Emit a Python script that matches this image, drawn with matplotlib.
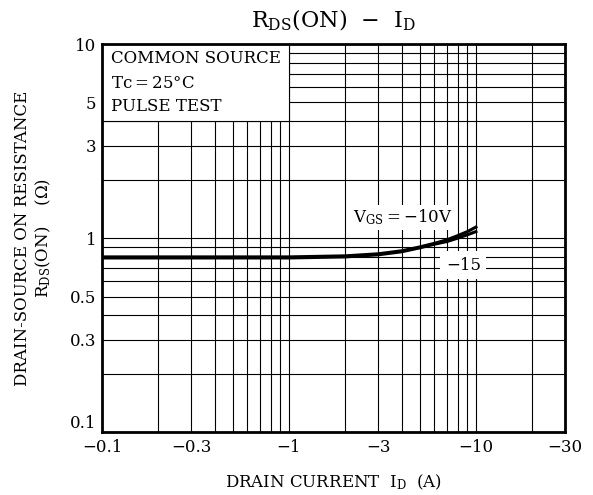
import matplotlib
matplotlib.use("Agg")
import matplotlib.pyplot as plt
from matplotlib.patches import Rectangle
from matplotlib.ticker import FixedLocator, NullFormatter

plt.rcParams['font.family'] = ['DejaVu Serif']
plt.rcParams['mathtext.fontset'] = 'dejavuserif'

# drain current magnitude (A), shown with a minus sign on the axis
id_a = [0.1, 0.3, 1, 2, 3, 4, 5, 6, 7, 8, 9, 10]
# RDS(ON) (ohm) for each gate voltage
rds_10 = [0.80, 0.80, 0.80, 0.81, 0.83, 0.86, 0.90, 0.94, 0.98, 1.03, 1.08, 1.14]
rds_15 = [0.79, 0.79, 0.79, 0.80, 0.82, 0.85, 0.89, 0.93, 0.96, 1.00, 1.04, 1.08]

x_ticks = [0.1, 0.3, 1, 3, 10, 30]
x_labels = ['\u22120.1', '\u22120.3', '\u22121', '\u22123', '\u221210', '\u221230']
y_ticks = [0.1, 0.3, 0.5, 1, 3, 5, 10]
y_labels = ['0.1', '0.3', '0.5', '1', '3', '5', '10']

fig = plt.figure(figsize=(5.93, 4.95), dpi=100)
ax = fig.add_axes([0.172, 0.127, 0.781, 0.784])
ax.set_xscale('log')
ax.set_yscale('log')
ax.set_xlim(0.1, 30)
ax.set_ylim(0.1, 10)

ax.plot(id_a, rds_10, color='black', lw=2.2, zorder=3)
ax.plot(id_a, rds_15, color='black', lw=2.2, zorder=3)

ax.xaxis.set_major_locator(FixedLocator(x_ticks))
ax.set_xticklabels(x_labels)
ax.yaxis.set_major_locator(FixedLocator(y_ticks))
ax.set_yticklabels(y_labels)
ax.xaxis.set_minor_formatter(NullFormatter())
ax.yaxis.set_minor_formatter(NullFormatter())
ax.tick_params(which='both', length=0, labelsize=12, pad=4)
ax.tick_params(axis='x', pad=5)
# bottom y label sits just above the corner, as in the original
ax.get_yticklabels()[0].set_va('bottom')
ax.grid(True, which='both', color='black', lw=0.8, zorder=1)
ax.set_axisbelow(True)
for s in ax.spines.values():
    s.set_linewidth(2)

# condition box in upper left
ax.add_patch(Rectangle((0.1, 4), 0.9, 6, facecolor='white', edgecolor='black', lw=0.8, zorder=2))
ax.text(0.02, 0.964, 'COMMON SOURCE', transform=ax.transAxes, fontsize=12, va='center', zorder=4)
ax.text(0.02, 0.898, 'Tc$=$25\u00b0C', transform=ax.transAxes, fontsize=12, va='center', zorder=4)
ax.text(0.02, 0.84, 'PULSE TEST', transform=ax.transAxes, fontsize=12, va='center', zorder=4)

ax.text(2.2, 1.14, r'$\mathregular{V_{GS}}$$=-$10V', fontsize=12, va='bottom', zorder=4,
        bbox=dict(facecolor='white', edgecolor='none', pad=2))
ax.text(6.9, 0.725, '\u221215', fontsize=12, va='center', zorder=4,
        bbox=dict(facecolor='white', edgecolor='none', pad=4))

fig.text(0.563, 0.958, r'$\mathregular{R_{DS}}$(ON)  $-$  $\mathregular{I_D}$', fontsize=16, ha='center', va='center')
ax.set_xlabel(r'DRAIN CURRENT  $\mathregular{I_D}$  (A)', fontsize=12, labelpad=12)
ax.set_ylabel('DRAIN-SOURCE ON RESISTANCE\n' + r'$\mathregular{R_{DS}}$(ON)    ($\Omega$)', fontsize=12, labelpad=12)

fig.savefig('out.png', dpi=100)
